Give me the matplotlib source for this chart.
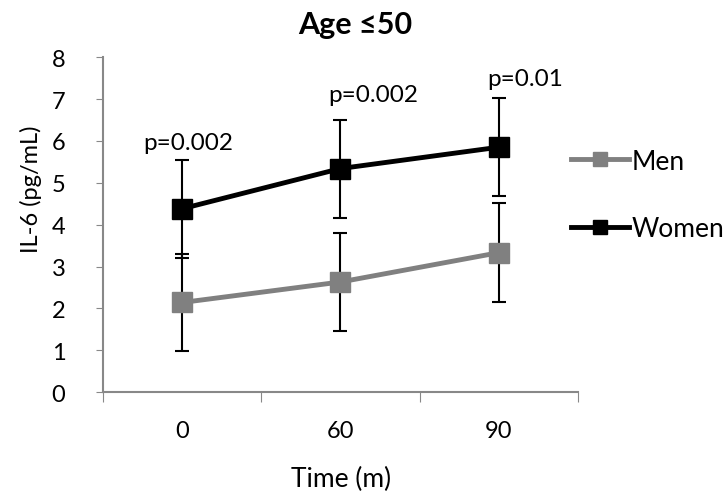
import matplotlib
matplotlib.use("Agg")
from matplotlib import pyplot as plt

plt.rcParams['font.family'] = ['Lato', 'DejaVu Sans']

times = ['0', '60', '90']
men = [2.14, 2.63, 3.33]
men_err = [1.17, 1.17, 1.18]
women = [4.38, 5.34, 5.85]
women_err = [1.17, 1.17, 1.17]
p_labels = ['p=0.002', 'p=0.002', 'p=0.01']
p_x = [0.04, 0.21, 0.17]
p_y = [5.97, 7.11, 7.49]

x = list(range(len(times)))

fig = plt.figure(figsize=(7.25, 5.02), dpi=100)
ax = fig.add_axes([0.142, 0.217, 0.655, 0.667])

ax.errorbar(x, men, yerr=men_err, fmt='none', ecolor='black', elinewidth=1.5,
            capsize=5, capthick=1.5, zorder=2)
ax.errorbar(x, women, yerr=women_err, fmt='none', ecolor='black', elinewidth=1.5,
            capsize=5, capthick=1.5, zorder=2)
ax.plot(x, men, color='#808080', marker='s', markersize=14, linewidth=3.5,
        label='Men', zorder=3)
ax.plot(x, women, color='black', marker='s', markersize=14, linewidth=3.5,
        label='Women', zorder=3)

for i in range(len(p_labels)):
    ax.text(x[i] + p_x[i], p_y[i], p_labels[i], ha='center', va='center', fontsize=17.5)

ax.set_xlim(-0.5, 2.5)
ax.set_ylim(0, 8)
ax.set_xticks([-0.5, 0.5, 1.5, 2.5])
ax.set_xticklabels([])
ax.set_xticks(x, minor=True)
ax.set_xticklabels(times, minor=True, fontsize=17)
ax.tick_params(axis='x', which='minor', length=0, pad=20)
ax.tick_params(axis='x', which='major', length=7, direction='out', color='#888888')
ax.set_yticks(range(0, 9))
ax.tick_params(axis='y', length=5, direction='out', color='#888888', labelsize=17, pad=22)

for s in ['top', 'right']:
    ax.spines[s].set_visible(False)
for s in ['left', 'bottom']:
    ax.spines[s].set_color('#888888')
    ax.spines[s].set_linewidth(1.5)

fig.text(0.49, 0.95, 'Age ≤50', ha='center', va='center', fontsize=22, fontweight='bold')
fig.text(0.471, 0.044, 'Time (m)', ha='center', va='center', fontsize=19)
fig.text(0.043, 0.623, 'IL-6 (pg/mL)', ha='center', va='center', fontsize=17,
         rotation=90)

fig.legend(loc='center left', bbox_to_anchor=(0.755, 0.61), frameon=False,
           fontsize=19, handlelength=2.2, handletextpad=0.1, labelspacing=1.6,
           markerscale=0.75)

fig.savefig('out.png', dpi=100)
